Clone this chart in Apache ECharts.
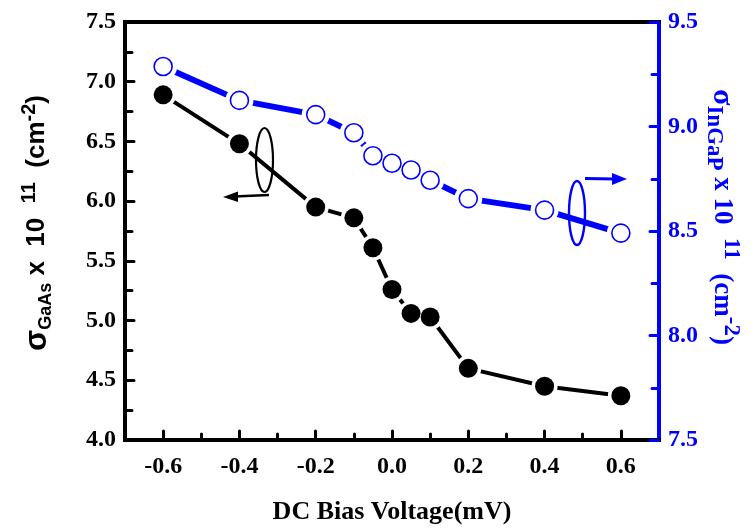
<!DOCTYPE html>
<html><head><meta charset="utf-8">
<script src="https://cdn.jsdelivr.net/npm/echarts@6/dist/echarts.min.js"></script>
<style>html,body{margin:0;padding:0;background:#fff}#c{width:755px;height:530px}</style>
</head><body><div id="c"></div>
<script>
// Data
var biasV = [-0.6, -0.4, -0.2, -0.1, -0.05, 0, 0.05, 0.1, 0.2, 0.4, 0.6];
var sigmaGaAs = [6.89, 6.48, 5.95, 5.86, 5.61, 5.26, 5.06, 5.03, 4.60, 4.45, 4.37];
var sigmaInGaP = [9.287, 9.125, 9.057, 8.97, 8.86, 8.824, 8.792, 8.743, 8.655, 8.60, 8.49];
var xMajorTicks = [-0.6, -0.4, -0.2, 0, 0.2, 0.4, 0.6];
var xMinorTicks = [-0.5, -0.3, -0.1, 0.1, 0.3, 0.5];

var gaasPts = biasV.map(function(x, i){ return [x, sigmaGaAs[i]]; });
var ingapPts = biasV.map(function(x, i){ return [x, sigmaInGaP[i]]; });

var serif = 'Liberation Serif';
var sans = 'Liberation Sans';
var BLUE = '#0000ff';

function rich(fam, col, main, sig, sub, sup, lh) {
  return {
    s: {fontFamily: fam, fontWeight: 'bold', fontSize: sig, lineHeight: lh, verticalAlign: 'middle', color: col},
    m: {fontFamily: fam, fontWeight: 'bold', fontSize: main, lineHeight: lh, verticalAlign: 'middle', color: col},
    sub: {fontFamily: fam, fontWeight: 'bold', fontSize: sub, lineHeight: sub, verticalAlign: 'bottom', color: col},
    sup: {fontFamily: fam, fontWeight: 'bold', fontSize: sup, lineHeight: sup, verticalAlign: 'top', color: col}
  };
}

var chart = echarts.init(document.getElementById('c'), null, {renderer:'canvas'});
chart.setOption({
  animation: false,
  backgroundColor: '#fff',
  grid: {left: 125, right: 96, top: 22, bottom: 88, containLabel: false},
  xAxis: [
    {
      type: 'value', position: 'bottom', min: -0.7, max: 0.7,
      name: 'DC Bias Voltage(mV)', nameLocation: 'middle', nameGap: 59,
      nameTextStyle: {fontFamily: serif, fontWeight: 'bold', fontSize: 26, color: '#000'},
      splitLine: {show: false},
      axisLine: {show: true, onZero: false, lineStyle: {color: '#000', width: 4, cap: 'square'}},
      axisTick: {show: true, inside: true, length: 9, customValues: xMajorTicks, lineStyle: {color: '#000', width: 3, cap: 'round'}},
      axisLabel: {show: true, customValues: xMajorTicks, margin: 15, fontFamily: serif, fontWeight: 'bold', fontSize: 24, color: '#000',
        formatter: function(v){ return v.toFixed(1); }}
    },
    {
      type: 'value', position: 'bottom', min: -0.7, max: 0.7,
      splitLine: {show: false},
      axisLine: {show: false, onZero: false},
      axisTick: {show: true, inside: true, length: 6, customValues: xMinorTicks, lineStyle: {color: '#000', width: 3, cap: 'round'}},
      axisLabel: {show: false}
    },
    {
      type: 'value', position: 'top', min: -0.7, max: 0.7,
      splitLine: {show: false},
      axisLine: {show: true, onZero: false, lineStyle: {color: '#000', width: 4, cap: 'square'}},
      axisTick: {show: false}, axisLabel: {show: false}
    }
  ],
  yAxis: [
    {
      type: 'value', position: 'left', min: 4, max: 7.5, interval: 0.5,
      name: '{s|σ}{sub|GaAs}{m| x  10  }{sup|11}{m|  (cm}{sup|-2}{m|)}',
      nameLocation: 'middle', nameGap: 70, nameRotate: 90,
      nameTextStyle: {
        fontFamily: sans, fontWeight: 'bold', fontSize: 26, color: '#000',
        padding: [0, 0, 0, 16],
        rich: rich(sans, '#000', 26, 31, 18, 20, 36)
      },
      splitLine: {show: false},
      axisLine: {show: true, onZero: false, lineStyle: {color: '#000', width: 4, cap: 'square'}},
      axisTick: {show: true, inside: true, length: 9, lineStyle: {color: '#000', width: 3, cap: 'round'}},
      minorTick: {show: true, splitNumber: 2, length: 7, lineStyle: {color: '#000', width: 3, cap: 'round'}},
      axisLabel: {margin: 9, fontFamily: serif, fontWeight: 'bold', fontSize: 24, color: '#000',
        formatter: function(v){ return v.toFixed(1); }}
    },
    {
      type: 'value', position: 'right', min: 7.5, max: 9.5, interval: 0.5,
      name: '{s|σ}{sub|InGaP}{m| x 10  }{sup|11}{m|  (cm}{sup|-2}{m|)}',
      nameLocation: 'middle', nameGap: 43, nameRotate: -90, nameMoveOverlap: false,
      nameTextStyle: {
        fontFamily: serif, fontWeight: 'bold', fontSize: 27, color: BLUE,
        padding: [0, 28, 0, 0],
        rich: rich(serif, BLUE, 27, 30, 23, 23, 40)
      },
      splitLine: {show: false},
      axisLine: {show: true, onZero: false, lineStyle: {color: BLUE, width: 4, cap: 'square'}},
      axisTick: {show: true, inside: true, length: 9, lineStyle: {color: BLUE, width: 3, cap: 'round'}},
      minorTick: {show: true, splitNumber: 2, length: 7, lineStyle: {color: BLUE, width: 3, cap: 'round'}},
      axisLabel: {margin: 9, fontFamily: serif, fontWeight: 'bold', fontSize: 24, color: BLUE,
        formatter: function(v){ return v.toFixed(1); }}
    }
  ],
  series: [
    {type: 'line', data: ingapPts, xAxisIndex: 0, yAxisIndex: 1, z: 1, showSymbol: false, symbol: 'none',
      lineStyle: {color: BLUE, width: 6}, silent: true},
    {type: 'scatter', data: ingapPts, xAxisIndex: 0, yAxisIndex: 1, z: 2, symbol: 'circle', symbolSize: 28,
      itemStyle: {color: '#fff', opacity: 1}, silent: true},
    {type: 'line', data: gaasPts, xAxisIndex: 0, yAxisIndex: 0, z: 3, showSymbol: false, symbol: 'none',
      lineStyle: {color: '#000', width: 4}, silent: true},
    {type: 'scatter', data: gaasPts, xAxisIndex: 0, yAxisIndex: 0, z: 4, symbol: 'circle', symbolSize: 26,
      itemStyle: {color: '#fff', opacity: 1}, silent: true},
    {type: 'scatter', data: ingapPts, xAxisIndex: 0, yAxisIndex: 1, z: 5, symbol: 'circle', symbolSize: 18,
      itemStyle: {color: '#fff', borderColor: BLUE, borderWidth: 1.6, opacity: 1}, silent: true},
    {type: 'scatter', data: gaasPts, xAxisIndex: 0, yAxisIndex: 0, z: 6, symbol: 'circle', symbolSize: 19,
      itemStyle: {color: '#000', opacity: 1}, silent: true}
  ],
  graphic: [
    {type: 'ellipse', z: 100, shape: {cx: 264.5, cy: 160, rx: 8.5, ry: 32}, style: {fill: 'none', stroke: '#000', lineWidth: 2.2}},
    {type: 'line', z: 100, shape: {x1: 269, y1: 195, x2: 234, y2: 196.5}, style: {stroke: '#000', lineWidth: 2.5}},
    {type: 'polygon', z: 100, shape: {points: [[223, 197], [238, 191.5], [238, 202]]}, style: {fill: '#000'}},
    {type: 'ellipse', z: 100, shape: {cx: 577, cy: 213, rx: 8, ry: 32}, style: {fill: 'none', stroke: BLUE, lineWidth: 2.4}},
    {type: 'line', z: 100, shape: {x1: 585, y1: 178.5, x2: 615, y2: 179}, style: {stroke: BLUE, lineWidth: 3}},
    {type: 'polygon', z: 100, shape: {points: [[627, 179], [612, 173], [612, 185]]}, style: {fill: BLUE}}
  ]
});
</script></body></html>
